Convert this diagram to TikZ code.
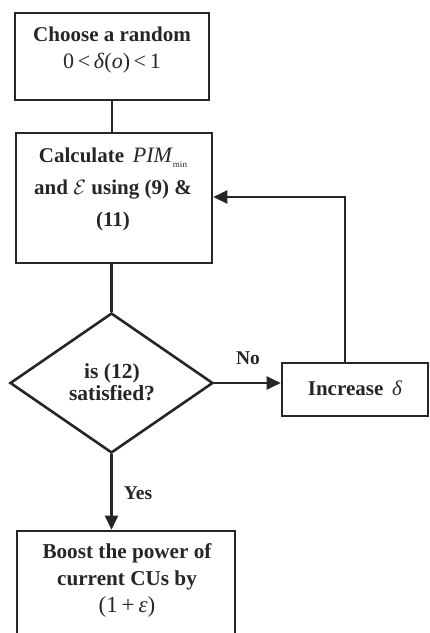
\documentclass[tikz,border=0pt]{standalone}
\usepackage{fontspec}
\setmainfont{Liberation Serif}
\usetikzlibrary{shapes.geometric,arrows.meta}
\begin{document}
\begin{tikzpicture}[x=1pt,y=-1pt,
  box/.style={draw=black!85, line width=2.6pt, rectangle, inner sep=0pt},
  txt/.style={align=center, font=\fontsize{21}{26}\selectfont\bfseries, inner sep=0pt, text=black!85},
  lbl/.style={font=\fontsize{19.5}{19.5}\selectfont\bfseries, inner sep=0pt, text=black!85},
  conn/.style={draw=black!85, line width=2.2pt},
  arr/.style={conn,-{Triangle[length=14pt,width=13pt]}}]
\useasboundingbox (0,0) rectangle (430,633);
% boxes
\node[box, minimum width=194pt, minimum height=87pt] (b1) at (112,56.5) {};
\node[box, minimum width=196pt, minimum height=130pt] (b2) at (114,198) {};
\node[draw=black!85, line width=2.6pt, diamond, inner sep=0pt, minimum width=203pt, minimum height=140pt] (d) at (111.5,383) {};
\node[box, minimum width=146pt, minimum height=53pt] (inc) at (355,389.5) {};
\node[box, minimum width=218pt, minimum height=119pt] (b4) at (126,590.5) {};
% texts
\node[txt] (t1) at (112,50) {Choose a random\\[1pt]{\mdseries\fontsize{22}{22}\selectfont 0\,<\,\textit{δ}(\textit{o})\,<\,1}};
\node[txt, font=\fontsize{21}{32}\selectfont\bfseries] (t2) at (113,189) {Calculate \,{\mdseries\fontsize{22}{22}\selectfont\textit{PIM}}\raisebox{-5pt}{\fontsize{9}{9}\selectfont\mdseries min}\\and {\fontsize{22}{22}\selectfont$\mathcal{E}$} using (9) \&\\(11)};
\node[txt, font=\fontsize{21.5}{22}\selectfont\bfseries] (t3) at (112,382) {is (12)\\satisfied?};
\node[txt] (t4) at (355,388) {Increase \,{\mdseries\textit{δ}}};
\node[txt, font=\fontsize{21.2}{27}\selectfont\bfseries] (t5) at (127,580) {Boost the power of\\current CUs by\\{\mdseries\fontsize{23}{23}\selectfont(1\,+\,\textit{ε})}};
\node[lbl] (no) at (248,358) {No};
\node[lbl] (yes) at (138,493) {Yes};
% connectors
\draw[conn] (b1.south) -- (b1.south |- b2.north);
\draw[conn] (d.north |- b2.south) -- (d.north);
\draw[arr] (d.east) -- (d.east -| inc.west);
\coordinate (c1) at (345,197);
\draw[arr] (inc.north -| c1) -- (c1) -- (c1 -| b2.east);
\draw[arr] (d.south) -- (d.south |- b4.north);
\end{tikzpicture}
\end{document}
